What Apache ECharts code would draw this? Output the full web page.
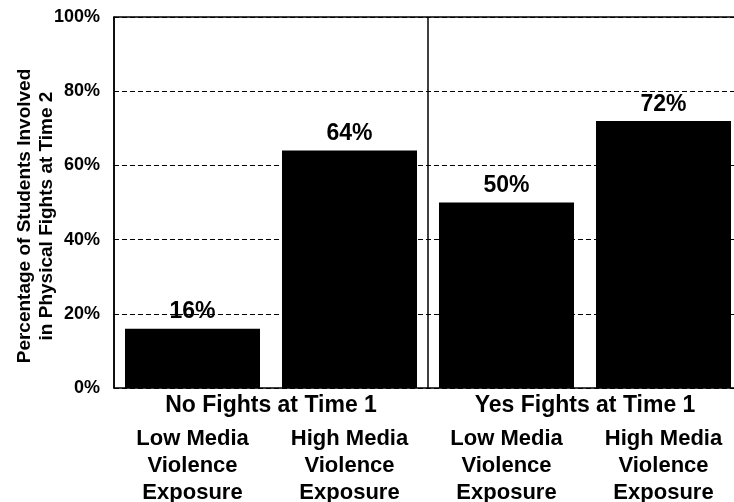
<!DOCTYPE html>
<html>
<head>
<meta charset="utf-8">
<script src="https://cdn.jsdelivr.net/npm/echarts@6/dist/echarts.min.js"></script>
<style>
  html, body { margin: 0; padding: 0; background: #fff; }
  #chart { width: 734px; height: 502px; }
</style>
</head>
<body>
<div id="chart"></div>
<script>
// Exposure level of each bar, left to right
const categories = [
  'Low Media\nViolence\nExposure',
  'High Media\nViolence\nExposure',
  'Low Media\nViolence\nExposure',
  'High Media\nViolence\nExposure'
];
// Fighting status at Time 1, one group per pair of bars
const groups = ['No Fights at Time 1', 'Yes Fights at Time 1'];
// Percent involved in physical fights at Time 2
const values = [16, 64, 50, 72];
const yTicks = [0, 20, 40, 60, 80, 100];

const FONT = '"Liberation Sans", Arial, sans-serif';
const chart = echarts.init(document.getElementById('chart'), null, { renderer: 'canvas' });

chart.setOption({
  animation: false,
  backgroundColor: '#fff',
  grid: { left: 114, top: 17, width: 628, height: 371, outerBoundsMode: 'none', containLabel: false },
  xAxis: [
    {
      type: 'category',
      data: categories,
      position: 'bottom',
      axisLine: { show: true, lineStyle: { color: '#000', width: 1.5 } },
      axisTick: { show: false },
      axisLabel: {
        color: '#000', fontFamily: FONT, fontWeight: 'bold', fontSize: 22,
        lineHeight: 27, margin: 37, interval: 0
      }
    },
    {
      // group labels and the solid divider between the two groups
      type: 'category',
      data: groups,
      position: 'bottom',
      axisLine: { show: false },
      axisTick: { show: false },
      splitLine: { show: true, lineStyle: { color: '#000', width: 1.5, type: 'solid' } },
      axisLabel: {
        color: '#000', fontFamily: FONT, fontWeight: 'bold', fontSize: 23, margin: 6
      }
    },
    {
      // top frame line
      type: 'category',
      data: groups,
      position: 'top',
      axisLine: { show: true, lineStyle: { color: '#000', width: 1.5 } },
      axisTick: { show: false },
      axisLabel: { show: false }
    }
  ],
  yAxis: {
    type: 'value',
    min: yTicks[0],
    max: yTicks[yTicks.length - 1],
    interval: 20,
    axisLine: { show: true, lineStyle: { color: '#000', width: 1.5 } },
    axisTick: { show: false },
    axisLabel: {
      formatter: '{value}%', color: '#000', fontFamily: FONT,
      fontWeight: 'bold', fontSize: 18, margin: 14
    },
    splitLine: { show: true, lineStyle: { color: '#000', width: 1, type: [5, 3] } }
  },
  series: [{
    type: 'bar',
    xAxisIndex: 0,
    data: values,
    barCategoryGap: '14%',
    itemStyle: { color: '#000' },
    label: {
      show: true, position: 'top', distance: 5,
      formatter: '{c}%', color: '#000', fontFamily: FONT,
      fontWeight: 'bold', fontSize: 23
    }
  }],
  graphic: [{
    type: 'text',
    x: 36, y: 216,
    rotation: Math.PI / 2,
    style: {
      text: 'Percentage of Students Involved\nin Physical Fights at Time 2',
      fill: '#000', font: 'bold 19px ' + FONT,
      lineHeight: 22, align: 'center', verticalAlign: 'middle'
    }
  }]
});
</script>
</body>
</html>
